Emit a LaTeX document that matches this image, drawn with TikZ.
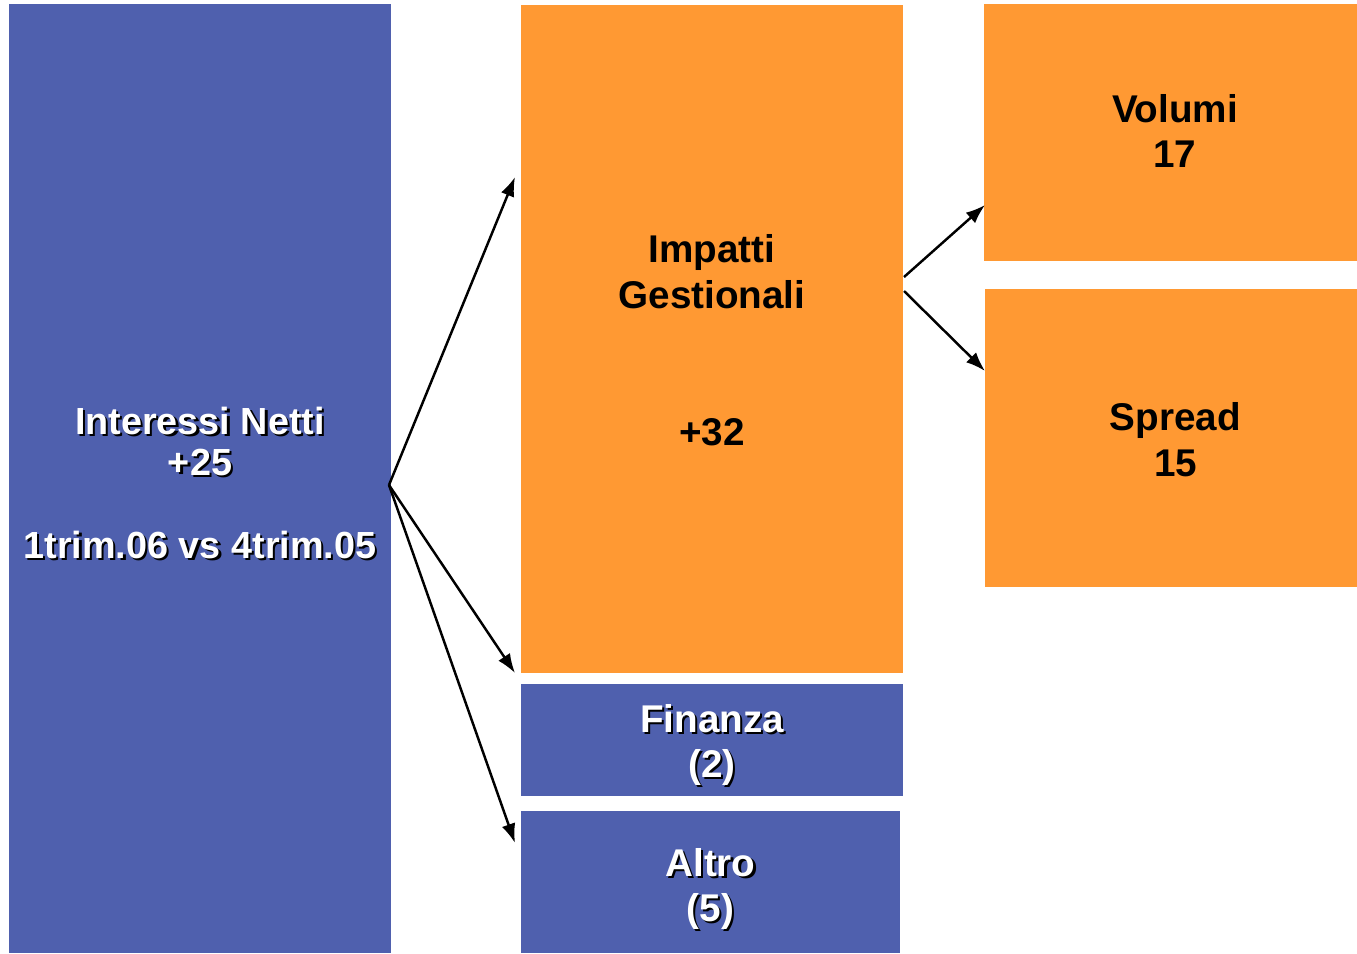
\documentclass[tikz,border=0pt]{standalone}
\usepackage{xcolor}
\usepackage{fontspec}
\setmainfont{Liberation Sans}
\usepackage{tikz}
\usetikzlibrary{arrows,arrows.meta,positioning}
\definecolor{blueBox}{RGB}{79,96,174}
\definecolor{orangeBox}{RGB}{255,153,51}
% white text with a small black drop shadow
\newcommand{\shtxt}[1]{\rlap{\kern1.2pt\raisebox{-1.2pt}{\textcolor{black}{#1}}}#1}

\begin{document}
\begin{tikzpicture}[
        x=0.02cm, y=-0.02cm,
        box/.style={draw=none, inner sep=0pt},
        bluebox/.style={box, fill=blueBox},
        orangebox/.style={box, fill=orangeBox},
        txt/.style={inner sep=0pt, align=center,
            font=\bfseries\fontsize{22}{26}\selectfont},
        whitetxt/.style={txt, text=white},
        arr/.style={line width=1.4pt, -{Latex[length=11pt,width=8pt]}}
    ]
        \useasboundingbox (0,0) rectangle (1357,954);

        % Left column
        \node[bluebox, minimum width=7.64cm, minimum height=18.98cm] (Netti) at (200,478.5) {};
        \node[whitetxt, font=\bfseries\fontsize{21.5}{23.5}\selectfont] (NettiTxt)
            at ([yshift=-0.11cm]Netti.center)
            {\shtxt{Interessi Netti}\\ \shtxt{+25}\\[23.5pt] \shtxt{1trim.06 vs 4trim.05}};

        % Middle column
        \node[orangebox, minimum width=7.64cm, minimum height=13.36cm] (Impatti) at (712,339) {};
        \node[txt] (ImpattiTxt) at ([yshift=-0.03cm]Impatti.center)
            {Impatti\\ Gestionali\\[52pt] +32};
        \node[bluebox, minimum width=7.64cm, minimum height=2.24cm] (Finanza) at (712,740) {};
        \node[whitetxt] (FinanzaTxt) at ([yshift=-0.12cm]Finanza.center)
            {\shtxt{Finanza}\\ \shtxt{(2)}};
        \node[bluebox, minimum width=7.58cm, minimum height=2.84cm] (Altro) at (710.5,882) {};
        \node[whitetxt] (AltroTxt) at ([yshift=-0.16cm]Altro.center)
            {\shtxt{Altro}\\ \shtxt{(5)}};

        % Right column
        \node[orangebox, minimum width=7.46cm, minimum height=5.14cm] (Volumi) at (1170.5,132.5) {};
        \node[txt] (VolumiTxt) at ([xshift=0.09cm, yshift=0.03cm]Volumi.center)
            {Volumi\\ 17};
        \node[orangebox, minimum width=7.44cm, minimum height=5.96cm] (Spread) at (1171,438) {};
        \node[txt] (SpreadTxt) at ([xshift=0.09cm, yshift=-0.04cm]Spread.center)
            {Spread\\ 15};

        % Arrow end points
        \coordinate (fork) at (389,485);
        \coordinate (toImpatti) at (515,177);
        \coordinate (toFinanza) at (515,673);
        \coordinate (toAltro) at (515,843);
        \coordinate (forkA) at (904,277);
        \coordinate (forkB) at (904,291);
        \coordinate (toVolumi) at (985,205);
        \coordinate (toSpread) at (985,371);

        % Connect
        \draw[arr] (fork) -- (toImpatti);
        \draw[arr] (fork) -- (toFinanza);
        \draw[arr] (fork) -- (toAltro);
        \draw[arr] (forkA) -- (toVolumi);
        \draw[arr] (forkB) -- (toSpread);
    \end{tikzpicture}
\end{document}
